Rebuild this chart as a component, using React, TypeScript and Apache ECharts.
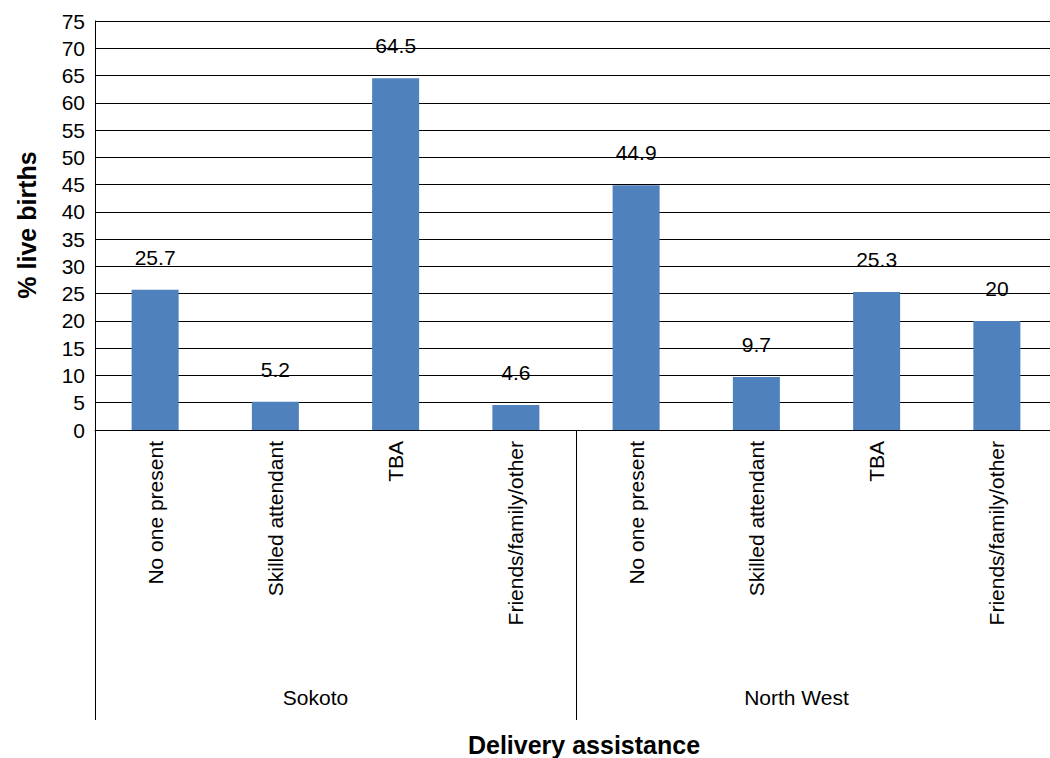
import React, { useEffect, useRef } from "react";
import * as echarts from "echarts";

const categories = [
  "No one present",
  "Skilled attendant",
  "TBA",
  "Friends/family/other",
  "No one present",
  "Skilled attendant",
  "TBA",
  "Friends/family/other",
];
const values = [25.7, 5.2, 64.5, 4.6, 44.9, 9.7, 25.3, 20];
const groups = ["Sokoto", "North West"];
const yAxisTitle = "% live births";
const xAxisTitle = "Delivery assistance";

const FONT = "'Liberation Sans', Arial, sans-serif";

export default function App() {
  const ref = useRef<HTMLDivElement>(null);
  useEffect(() => {
    if (!ref.current) return;
    const chart = echarts.init(ref.current, null, { renderer: "svg" });
    chart.setOption({
      animation: false,
      backgroundColor: "#ffffff",
      textStyle: { fontFamily: FONT },
      grid: { left: 95, top: 21, right: 3, height: 409, containLabel: false },
      xAxis: [
        {
          type: "category",
          data: categories,
          position: "bottom",
          axisLine: { show: true, lineStyle: { color: "#000", width: 1 } },
          axisTick: { show: false },
          axisLabel: {
            rotate: 90,
            margin: 11,
            fontSize: 21,
            color: "#000",
            fontFamily: FONT,
            interval: 0,
          },
        },
        {
          type: "category",
          data: groups,
          position: "bottom",
          offset: 0,
          axisLine: { show: false },
          axisTick: {
            show: true,
            length: 290,
            inside: false,
            lineStyle: { color: "#000", width: 1 },
          },
          axisLabel: {
            margin: 257,
            fontSize: 21,
            color: "#000",
            fontFamily: FONT,
            padding: [0, 40, 0, 0],
          },
          splitLine: { show: false },
        },
      ],
      yAxis: {
        type: "value",
        min: 0,
        max: 75,
        interval: 5,
        axisLine: { show: true, lineStyle: { color: "#000", width: 1 } },
        axisTick: { show: false },
        axisLabel: { fontSize: 21, color: "#000", margin: 10, fontFamily: FONT },
        splitLine: { show: true, lineStyle: { color: "#000", width: 1 } },
      },
      graphic: [
        {
          type: "text",
          x: 27,
          y: 225,
          rotation: Math.PI / 2,
          style: {
            text: yAxisTitle,
            font: `bold 25px ${FONT}`,
            fill: "#000",
            align: "center",
            verticalAlign: "middle",
          },
        },
        {
          type: "text",
          x: 584,
          y: 745,
          style: {
            text: xAxisTitle,
            font: `bold 25px ${FONT}`,
            fill: "#000",
            align: "center",
            verticalAlign: "middle",
          },
        },
      ],
      series: [
        {
          type: "bar",
          data: values,
          barWidth: 47,
          itemStyle: { color: "#4F81BD" },
          label: {
            show: true,
            position: "top",
            distance: 22,
            fontSize: 21,
            color: "#000",
            fontFamily: FONT,
          },
        },
      ],
    });
    return () => chart.dispose();
  }, []);
  return (
    <div
      ref={ref}
      style={{ position: "fixed", left: 0, top: 0, width: 1060, height: 758 }}
    />
  );
}
